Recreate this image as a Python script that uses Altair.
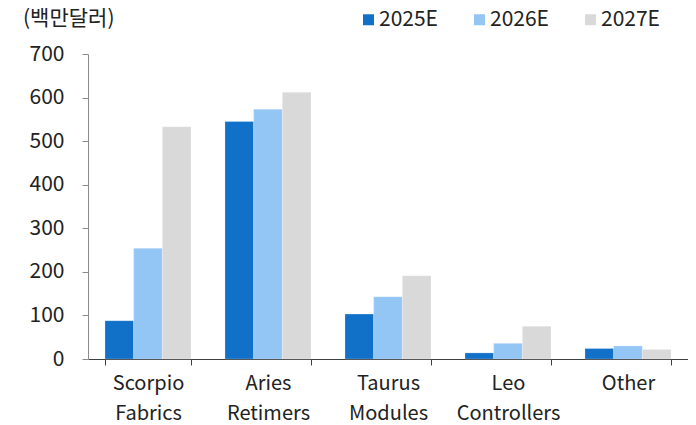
import altair as alt
import pandas as pd

categories = ["Scorpio Fabrics", "Aries Retimers", "Taurus Modules", "Leo Controllers", "Other"]
years = ["2025E", "2026E", "2027E"]
v2025 = [88, 545, 103, 14, 24]
v2026 = [254, 573, 143, 36, 30]
v2027 = [533, 612, 191, 75, 22]
colors = ["#1170C8", "#93C5F5", "#D9D9D9"]
unit_label = "(백만달러)"

rows = []
for i, c in enumerate(categories):
    for y, vals in zip(years, [v2025, v2026, v2027]):
        rows.append({"category": c, "year": y, "value": vals[i]})
df = pd.DataFrame(rows)

FONT = "Noto Sans CJK KR"

bars = alt.Chart(df).mark_bar(stroke="white", strokeWidth=0.4, strokeOpacity=0.6).encode(
    x=alt.X("category:N", sort=categories, title=None,
            scale=alt.Scale(paddingInner=0.283, paddingOuter=0.1415),
            axis=alt.Axis(labelAngle=0, tickBand="extent", tickSize=6, labelPadding=8,
                          labelLineHeight=30, labelFontSize=20, labelFont=FONT,
                          labelColor="#222222", domainColor="#404040", tickColor="#404040",
                          labelExpr="split(datum.label, ' ')", labelBaseline="top")),
    xOffset=alt.XOffset("year:N", sort=years, scale=alt.Scale(paddingInner=0, paddingOuter=0)),
    y=alt.Y("value:Q", title=None,
            scale=alt.Scale(domain=[0, 700], nice=False),
            axis=alt.Axis(values=[0, 100, 200, 300, 400, 500, 600, 700], tickSize=6,
                          labelPadding=18, labelFontSize=21, labelFont=FONT,
                          labelColor="#222222", domainColor="#8c8c8c", tickColor="#8c8c8c",
                          grid=False)),
    color=alt.Color("year:N", sort=years,
                    scale=alt.Scale(domain=years, range=colors),
                    legend=alt.Legend(title=None, orient="none", direction="horizontal",
                                      legendX=270, legendY=-45, padding=0,
                                      symbolType="square", symbolSize=121, symbolStrokeWidth=0,
                                      symbolOpacity=1, labelFontSize=21, labelFont=FONT,
                                      labelColor="#222222", labelOffset=0, columnPadding=31)),
)

title_df = pd.DataFrame({"t": [unit_label]})
title = alt.Chart(title_df).mark_text(align="left", baseline="middle", fontSize=21,
                                      font=FONT, color="#222222").encode(
    text="t:N", x=alt.value(-65), y=alt.value(-35))

chart = alt.layer(bars, title).properties(
    width=600, height=305,
    padding={"left": 80, "top": 46, "right": 0, "bottom": 66},
    autosize=alt.AutoSizeParams(type="none"),
).configure_view(stroke=None)

chart.save("out.html", embed_options={"renderer": "svg", "actions": False})
